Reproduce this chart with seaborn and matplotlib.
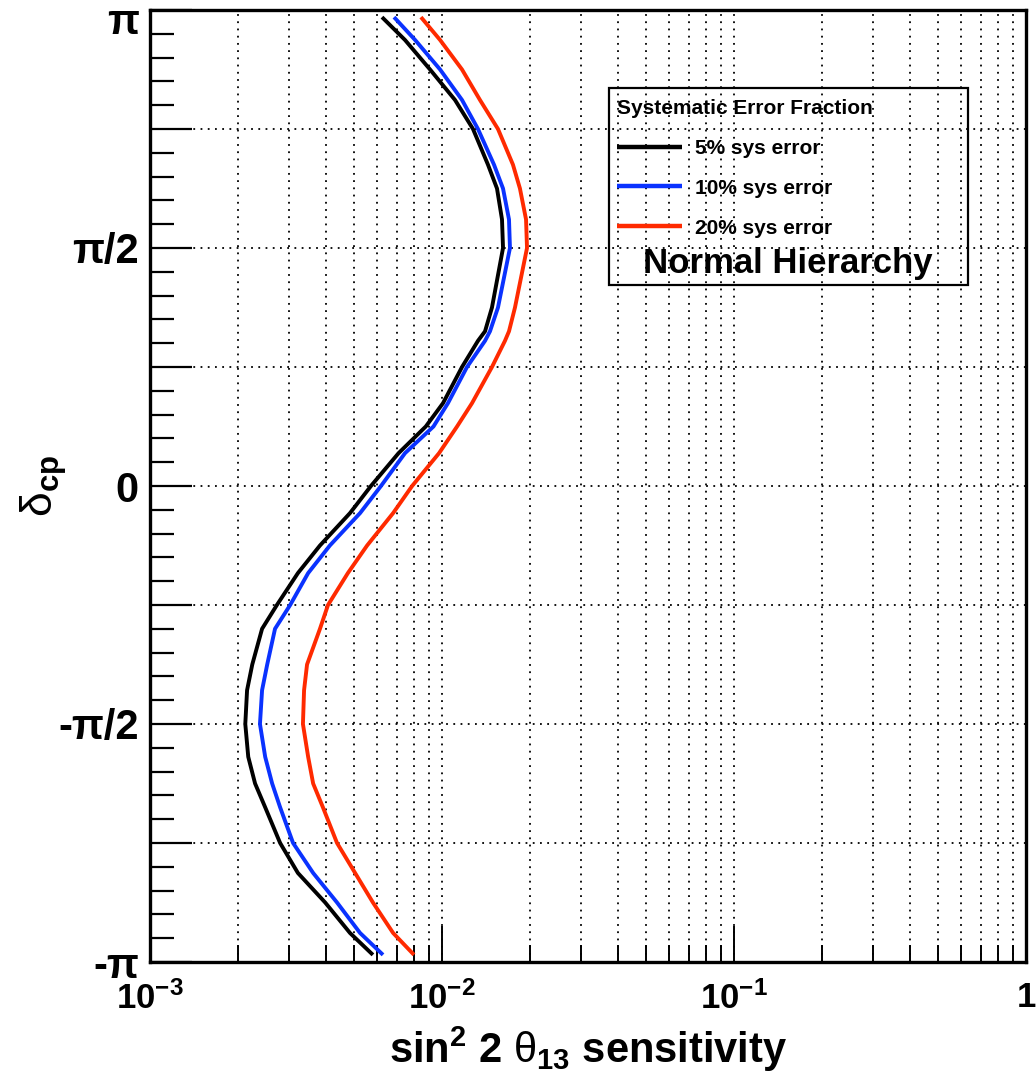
import numpy as np
import pandas as pd
import seaborn as sns
import matplotlib.pyplot as plt
from matplotlib.patches import Rectangle
from matplotlib.ticker import LogLocator, FixedLocator, NullFormatter
from matplotlib.transforms import ScaledTranslation

# delta_cp values, in units of pi
delta_frac = [0.985, 0.937, 0.875, 0.811, 0.75, 0.675, 0.625, 0.56, 0.5, 0.375, 0.325, 0.305,
              0.25, 0.174, 0.125, 0.069, 0.0, -0.057, -0.125, -0.183, -0.25, -0.3, -0.375,
              -0.429, -0.5, -0.569, -0.625, -0.675, -0.75, -0.813, -0.875, -0.939, -0.985]

# sin^2 2theta13 sensitivity
sens_5 = [0.00623, 0.00747, 0.00910, 0.01108, 0.01277, 0.01437, 0.01543, 0.01605, 0.01618, 0.01483, 0.01404, 0.01328,
          0.01171, 0.01008, 0.00880, 0.00710, 0.00571, 0.00484, 0.00382, 0.00321, 0.00272, 0.00242, 0.00224,
          0.00215, 0.00212, 0.00217, 0.00229, 0.00248, 0.00279, 0.00321, 0.00398, 0.00484, 0.00580]
sens_10 = [0.00685, 0.00809, 0.00985, 0.01171, 0.01328, 0.01507, 0.01618, 0.01696, 0.01709, 0.01555, 0.01460, 0.01404,
           0.01218, 0.01048, 0.00935, 0.00747, 0.00618, 0.00524, 0.00413, 0.00348, 0.00302, 0.00268, 0.00252,
           0.00242, 0.00238, 0.00248, 0.00262, 0.00279, 0.00309, 0.00362, 0.00437, 0.00524, 0.00628]
sens_20 = [0.00847, 0.00985, 0.01171, 0.01349, 0.01555, 0.01750, 0.01849, 0.01940, 0.01955, 0.01778, 0.01696, 0.01643,
           0.01483, 0.01267, 0.01126, 0.00977, 0.00790, 0.00680, 0.00554, 0.00476, 0.00407, 0.00382, 0.00345,
           0.00337, 0.00334, 0.00348, 0.00362, 0.00391, 0.00437, 0.00504, 0.00580, 0.00680, 0.00802]

series = ['5% sys error', '10% sys error', '20% sys error']
colors = {'5% sys error': 'black', '10% sys error': '#0a32ff', '20% sys error': '#ff2a00'}

ytick_frac = [-1, -0.75, -0.5, -0.25, 0, 0.25, 0.5, 0.75, 1]
ytick_labels = ['-π', '', '-π/2', '', '0', '', 'π/2', '', 'π']
xtick_vals = [1e-3, 1e-2, 1e-1, 1]
xtick_labels = ['$10^{-3}$', '$10^{-2}$', '$10^{-1}$', '$1$']

frames = []
for name, vals in zip(series, [sens_5, sens_10, sens_20]):
    frames.append(pd.DataFrame({'sens': vals, 'delta': np.array(delta_frac) * np.pi, 'series': name}))
df = pd.concat(frames, ignore_index=True)

sns.set_theme(style='white')
plt.rcParams['font.family'] = ['Liberation Sans', 'DejaVu Sans']
plt.rcParams['mathtext.fontset'] = 'custom'
plt.rcParams['mathtext.rm'] = 'Liberation Sans:bold'
plt.rcParams['mathtext.bf'] = 'Liberation Sans:bold'
plt.rcParams['mathtext.it'] = 'Liberation Sans:bold'
plt.rcParams['mathtext.sf'] = 'Liberation Sans'
plt.rcParams['mathtext.default'] = 'rm'
for key in ['text.color', 'axes.labelcolor', 'xtick.color', 'ytick.color', 'axes.edgecolor']:
    plt.rcParams[key] = 'black'

fig = plt.figure(figsize=(10.36, 10.78), dpi=100)
ax = fig.add_axes([150 / 1036, 1 - 962 / 1078, 876 / 1036, 952 / 1078])

sns.lineplot(data=df, x='sens', y='delta', hue='series', palette=colors, hue_order=series,
             sort=False, estimator=None, orient='y', lw=2.8, ax=ax)
for line in ax.get_lines():
    line.set_solid_joinstyle('round')
    line.set_solid_capstyle('butt')

ax.set_xscale('log')
ax.set_xlim(1e-3, 1)
ax.set_ylim(-np.pi, np.pi)

ax.set_xticks(xtick_vals, xtick_labels)
ax.xaxis.set_minor_locator(LogLocator(base=10, subs=np.arange(2, 10)))
ax.xaxis.set_minor_formatter(NullFormatter())
ax.set_yticks(np.array(ytick_frac) * np.pi, ytick_labels)
ax.yaxis.set_minor_locator(FixedLocator(np.arange(-1, 1.0001, 0.05) * np.pi))

ax.tick_params(axis='both', which='both', direction='in', color='black',
               top=False, right=False, bottom=True, left=True)
ax.xaxis.set_tick_params(which='major', length=26, width=1.4, pad=14, labelsize=25)
ax.xaxis.set_tick_params(which='minor', length=12, width=1.4)
ax.yaxis.set_tick_params(which='major', length=30, width=1.6, pad=8, labelsize=30)
ax.yaxis.set_tick_params(which='minor', length=17, width=1.6)
ylabs = ax.get_yticklabels()
for lab in ylabs:
    lab.set_fontweight('bold')
ylabs[-1].set_transform(ylabs[-1].get_transform() + ScaledTranslation(0, -8 / 100, fig.dpi_scale_trans))

ax.grid(which='both', axis='x', color='black', linestyle=(0, (1, 3)), linewidth=1.3)
ax.grid(which='major', axis='y', color='black', linestyle=(0, (1, 3)), linewidth=1.3)

for sp in ax.spines.values():
    sp.set_linewidth(2.4)
    sp.set_color('black')

ax.set_xlabel('sin$^2$ 2 $\\mathsf{θ}_{13}$ sensitivity', fontsize=30, fontweight='bold', labelpad=6)
ax.set_ylabel('δ$_{cp}$', fontsize=32)
ax.yaxis.set_label_coords(-0.092, 0.5)

handles, labels = ax.get_legend_handles_labels()
leg = ax.legend(handles, labels, title='Systematic Error Fraction', loc='upper left',
                bbox_to_anchor=(617 / 1036, 1 - 99 / 1078), bbox_transform=fig.transFigure,
                frameon=False, borderpad=0, borderaxespad=0, alignment='left',
                prop={'weight': 'bold', 'size': 15},
                title_fontproperties={'weight': 'bold', 'size': 15},
                handlelength=3.1, handletextpad=0.65, labelspacing=1.0)
for line in leg.get_lines():
    line.set_linewidth(3.2)

fig.patches.append(Rectangle((609 / 1036, 1 - 285 / 1078), 359 / 1036, 197 / 1078,
                             transform=fig.transFigure, fill=False, edgecolor='black', linewidth=1.6, zorder=5))
fig.text(788 / 1036, 1 - 263 / 1078, 'Normal Hierarchy', ha='center', va='center',
         fontsize=25, fontweight='bold')

fig.savefig('out.png', dpi=100, facecolor='white')
